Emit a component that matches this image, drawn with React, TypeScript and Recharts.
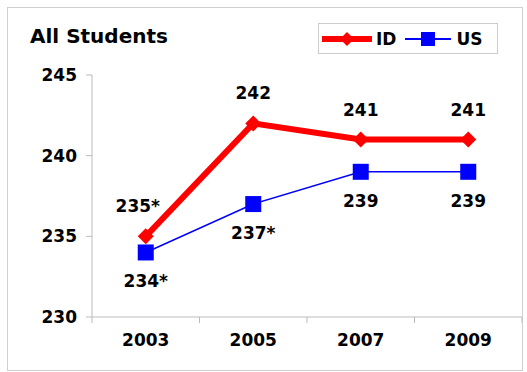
import React from 'react';
import { LineChart, Line, XAxis, YAxis, LabelList } from 'recharts';

const years = ['2003', '2005', '2007', '2009'];
const idScores = [235, 242, 241, 241];
const usScores = [234, 237, 239, 239];
const idLabels = ['235*', '242', '241', '241'];
const usLabels = ['234*', '237*', '239', '239'];
const yTicks = [230, 235, 240, 245];

const data = years.map((year, i) => ({
  year,
  ID: idScores[i],
  US: usScores[i],
  idLabel: idLabels[i],
  usLabel: usLabels[i],
}));

const FONT = '"DejaVu Sans", Verdana, sans-serif';
const BAND = (522 - 92) / years.length;

const Diamond = (props: any) => {
  const { cx, cy } = props;
  if (cx == null || cy == null) return null;
  const r = 8;
  return <polygon points={`${cx},${cy - r} ${cx + r},${cy} ${cx},${cy + r} ${cx - r},${cy}`} fill="#FF0000" />;
};

const Square = (props: any) => {
  const { cx, cy } = props;
  if (cx == null || cy == null) return null;
  const s = 8;
  return <rect x={cx - s} y={cy - s} width={s * 2} height={s * 2} fill="#0000FF" />;
};

const XTick = (props: any) => {
  const { x, y, payload, index } = props;
  const isLast = index === years.length - 1;
  return (
    <g>
      <line x1={x - BAND / 2} y1={y - 8} x2={x - BAND / 2} y2={y - 2} stroke="#bbb" />
      {isLast && <line x1={x + BAND / 2} y1={y - 8} x2={x + BAND / 2} y2={y - 2} stroke="#bbb" />}
      <text x={x} y={y + 21} textAnchor="middle" fontSize={17} fontWeight="bold" fill="#000" fontFamily={FONT}>
        {payload.value}
      </text>
    </g>
  );
};

const makeLabel = (labels: string[], dy: number) => (props: any) => {
  const { x, y, index } = props;
  return (
    <text x={x + (index === 0 && dy < 0 ? -8 : 0)} y={y + dy} textAnchor="middle" fontSize={17} fontWeight="bold" fill="#000" fontFamily={FONT}>
      {labels[index]}
    </text>
  );
};

export default function App() {
  return (
    <div style={{ position: 'absolute', left: 0, top: 0, width: 527, height: 372, background: '#fff', fontFamily: FONT }}>
      <div style={{ position: 'absolute', left: 7, top: 7, width: 514, height: 362, border: '1px solid #d0d0d0' }} />
      <div style={{ position: 'absolute', left: 30, top: 24, fontSize: 20, fontWeight: 'bold', color: '#000' }}>
        All Students
      </div>
      <div
        style={{
          position: 'absolute',
          left: 318,
          top: 23,
          width: 178,
          height: 29,
          border: '1px solid #ccc',
          display: 'flex',
          alignItems: 'center',
          fontSize: 17,
          fontWeight: 'bold',
          zIndex: 2,
        }}
      >
        <svg width={52} height={20} style={{ marginLeft: 3 }}>
          <line x1={0} y1={10} x2={50} y2={10} stroke="#FF0000" strokeWidth={6} />
          <polygon points="25,3 32,10 25,17 18,10" fill="#FF0000" />
        </svg>
        <span style={{ marginLeft: 2 }}>ID</span>
        <svg width={48} height={20} style={{ marginLeft: 9 }}>
          <line x1={0} y1={10} x2={46} y2={10} stroke="#0000FF" strokeWidth={2} />
          <rect x={16} y={3} width={14} height={14} fill="#0000FF" />
        </svg>
        <span style={{ marginLeft: 3 }}>US</span>
      </div>
      <div style={{ position: 'absolute', left: 0, top: 0 }}>
        <LineChart width={527} height={372} data={data} margin={{ top: 75, right: 5, left: 32, bottom: 25 }}>
          <XAxis
            dataKey="year"
            scale="band"
            height={30}
            axisLine={{ stroke: '#bbb' }}
            tickLine={false}
            tick={<XTick />}
            interval={0}
          />
          <YAxis
            width={60}
            domain={[230, 245]}
            ticks={yTicks}
            axisLine={{ stroke: '#bbb' }}
            tickLine={{ stroke: '#bbb' }}
            tickSize={6}
            tickMargin={9}
            tick={{ fontSize: 17, fontWeight: 'bold', fill: '#000', fontFamily: FONT }}
            interval={0}
          />
          <Line
            type="linear"
            dataKey="US"
            stroke="#0000FF"
            strokeWidth={1.5}
            dot={<Square />}
            activeDot={false}
            isAnimationActive={false}
          >
            <LabelList dataKey="usLabel" content={makeLabel(usLabels, 35)} />
          </Line>
          <Line
            type="linear"
            dataKey="ID"
            stroke="#FF0000"
            strokeWidth={6}
            dot={<Diamond />}
            activeDot={false}
            isAnimationActive={false}
          >
            <LabelList dataKey="idLabel" content={makeLabel(idLabels, -24)} />
          </Line>
        </LineChart>
      </div>
    </div>
  );
}
